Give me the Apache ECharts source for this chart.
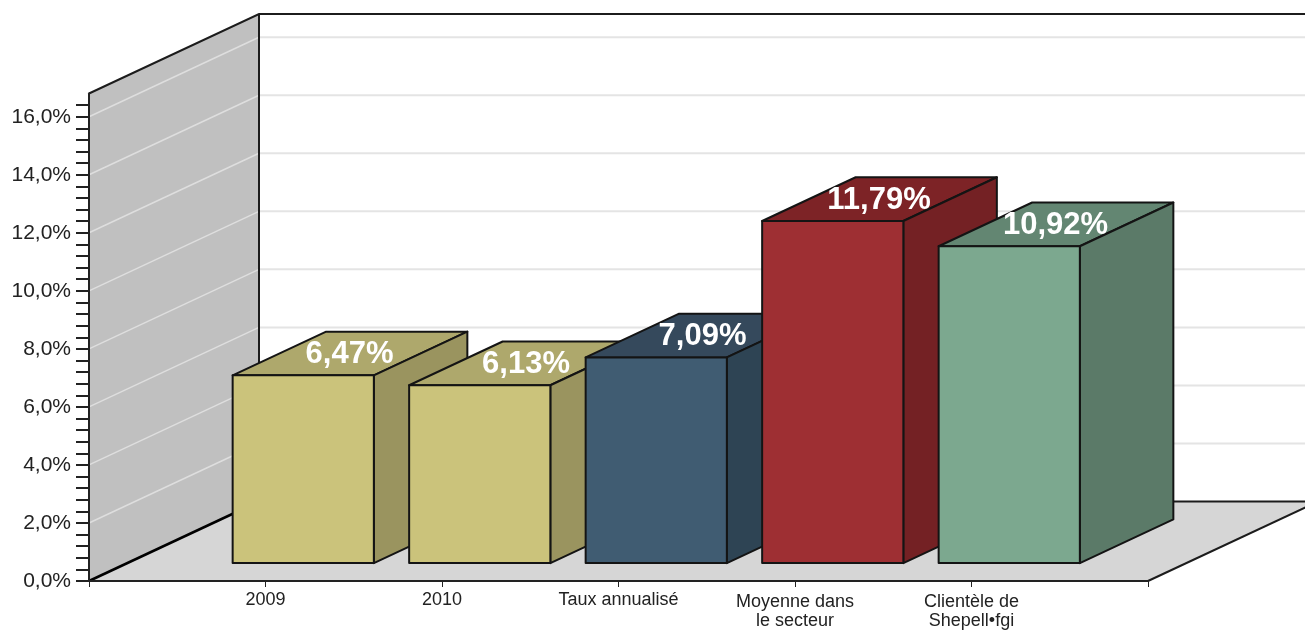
<!DOCTYPE html>
<html>
<head>
<meta charset="utf-8">
<style>html,body{margin:0;padding:0;background:#fff}#c{width:1305px;height:631px}</style>
<script src="https://cdn.jsdelivr.net/npm/echarts@6/dist/echarts.min.js"></script>
</head>
<body>
<div id="c"></div>
<script>
const categories = ['', '2009', '2010', 'Taux annualisé', 'Moyenne dans\nle secteur', 'Clientèle de\nShepell•fgi', ' '];
const barIndex = [1, 2, 3, 4, 5];
const values = [6.47, 6.13, 7.09, 11.79, 10.92];
const frontColors = ['#cbc37b', '#cbc37b', '#405c72', '#9e2f33', '#7ca88f'];
const sideColors = ['#9a945f', '#9a945f', '#2e4454', '#742124', '#5b7a68'];
const topColors = ['#aea86c', '#aea86c', '#35495c', '#7d2326', '#638672'];
const yLabelValues = [0, 2, 4, 6, 8, 10, 12, 14, 16];
const yTickValues = [0,0.4,0.8,1.2,1.6,2,2.4,2.8,3.2,3.6,4,4.4,4.8,5.2,5.6,6,6.4,6.8,7.2,7.6,8,8.4,8.8,9.2,9.6,10,10.4,10.8,11.2,11.6,12,12.4,12.8,13.2,13.6,14,14.4,14.8,15.2,15.6,16,16.4];
const yMax = 16.8;
const DX = 170, DY = -79.5;
const BAR_W = 0.8, D0 = 0.225, D1 = 0.775;
const EDGE = '#141414';

function pr(api, x, y, d) {
  const p = api.coord([x, y]);
  return [p[0] + DX * d, p[1] + DY * d];
}
function renderScene(params, api) {
  const n = categories.length - 1;
  const ch = [];
  const a = pr(api,0,0,0), b = pr(api,0,yMax,0), c = pr(api,0,yMax,1), d = pr(api,0,0,1);
  const e = pr(api,n,0,0), f = pr(api,n,0,1), g = pr(api,n,yMax,1);
  ch.push({type:'polygon',shape:{points:[b,c,g,f,d]},style:{fill:'#fff'}});
  ch.push({type:'polygon',shape:{points:[a,b,c,d]},style:{fill:'#c0c0c0'}});
  ch.push({type:'polygon',shape:{points:[a,d,f,e]},style:{fill:'#d6d6d6'}});
  yLabelValues.slice(1).forEach(v => {
    const s = pr(api,0,v,0), m = pr(api,0,v,1), t = pr(api,n,v,1);
    ch.push({type:'polyline',shape:{points:[s,m]},style:{fill:null,stroke:'#dedede',lineWidth:1.5}});
    ch.push({type:'polyline',shape:{points:[m,t]},style:{fill:null,stroke:'#e4e4e4',lineWidth:2}});
  });
  const st = {fill:null,stroke:'#1c1c1c',lineWidth:2};
  ch.push({type:'polyline',shape:{points:[b,c,g]},style:st});
  ch.push({type:'polyline',shape:{points:[c,d,f]},style:st});
  ch.push({type:'polyline',shape:{points:[a,d]},style:{fill:null,stroke:'#000',lineWidth:2.5}});
  ch.push({type:'polyline',shape:{points:[e,f]},style:st});
  return {type:'group',children:ch};
}
function renderBar(params, api) {
  const i = params.dataIndex, x = api.value(0), v = api.value(1);
  const c0 = api.coord([x, 0]), cv = api.coord([x, v]);
  const w = (api.coord([x + 1, 0])[0] - c0[0]) * BAR_W;
  const at = (side, py, d) => [c0[0] + side * w / 2 - 0.5 + DX * d, py + DY * d];
  const fbl = at(-1,c0[1],D0), fbr = at(1,c0[1],D0), ftl = at(-1,cv[1],D0), ftr = at(1,cv[1],D0);
  const bbr = at(1,c0[1],D1), btl = at(-1,cv[1],D1), btr = at(1,cv[1],D1);
  const mk = (pts, fill) => ({type:'polygon',shape:{points:pts},style:{fill:fill,stroke:EDGE,lineWidth:2,lineJoin:'round'}});
  return {type:'group',children:[
    mk([ftl,btl,btr,ftr], topColors[i]),
    mk([fbr,ftr,btr,bbr], sideColors[i]),
    mk([fbl,ftl,ftr,fbr], frontColors[i])
  ]};
}
function renderValueLabel(params, api) {
  const x = api.value(0), v = api.value(1);
  const p = pr(api, x, v, (D0 + D1) / 2);
  return {type:'text',x:p[0]-1,y:p[1]+1,style:{
    text:v.toFixed(2).replace('.', ',') + '%',
    fill:'#fff',font:'bold 31px "Liberation Sans", Arial, sans-serif',align:'center',verticalAlign:'middle'}};
}
const barData = barIndex.map((x, i) => [x, values[i]]);
const axisData = categories.map(c => c.indexOf('\n') >= 0 ? {value:c,textStyle:{padding:[2,0,0,0]}} : c);
const chart = echarts.init(document.getElementById('c'), null, {renderer:'canvas'});
chart.setOption({
  animation:false,
  backgroundColor:'#fff',
  grid:{left:89,right:157,top:93.5,bottom:49.5,containLabel:false},
  xAxis:{
    type:'category',data:axisData,boundaryGap:false,z:10,
    axisLine:{show:true,lineStyle:{color:'#222',width:2}},
    axisTick:{show:true,length:6,lineStyle:{color:'#222',width:1},alignWithLabel:true},
    axisLabel:{show:true,interval:0,margin:10,color:'#222',fontFamily:'"Liberation Sans", Arial, sans-serif',fontSize:18,lineHeight:19,verticalAlign:'top',hideOverlap:false},
    splitLine:{show:false}
  },
  yAxis:{
    type:'value',min:0,max:yMax,interval:2,z:10,
    axisLine:{show:true,onZero:false,lineStyle:{color:'#222',width:2}},
    axisTick:{show:true,length:13,customValues:yTickValues,lineStyle:{color:'#222',width:2}},
    axisLabel:{show:true,margin:18,customValues:yLabelValues,color:'#222',fontFamily:'"Liberation Sans", Arial, sans-serif',fontSize:21,
      formatter:v => v.toFixed(1).replace('.', ',') + '%'},
    splitLine:{show:false}
  },
  series:[
    {type:'custom',name:'scene',coordinateSystem:'cartesian2d',clip:false,silent:true,z:1,renderItem:renderScene,data:[[0,0]],encode:{x:0,y:1}},
    {type:'custom',name:'bars',coordinateSystem:'cartesian2d',clip:false,silent:true,z:2,renderItem:renderBar,data:barData,encode:{x:0,y:1}},
    {type:'custom',name:'labels',coordinateSystem:'cartesian2d',clip:false,silent:true,z:3,renderItem:renderValueLabel,data:barData,encode:{x:0,y:1}}
  ]
});
</script>
</body>
</html>
